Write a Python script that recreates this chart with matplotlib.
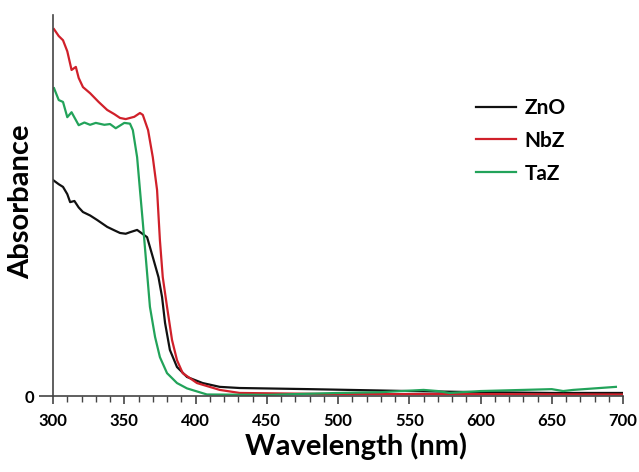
import matplotlib
matplotlib.use("Agg")
import matplotlib.pyplot as plt
from matplotlib.ticker import MultipleLocator

# values (absorbance, arbitrary units, 0 = baseline)
zno_nm = [300, 304, 307, 310, 312, 315, 318, 321, 326, 331, 338, 343, 347, 351, 354, 359,
          366, 370, 374, 376.5, 378.6, 382, 387, 394, 405, 417, 431, 480, 550, 600, 650, 700]
zno_abs = [0.567, 0.556, 0.549, 0.530, 0.509, 0.512, 0.495, 0.483, 0.474, 0.462, 0.444, 0.435,
           0.428, 0.426, 0.430, 0.436, 0.417, 0.365, 0.312, 0.260, 0.192, 0.121, 0.076, 0.050,
           0.034, 0.024, 0.021, 0.018, 0.013, 0.010, 0.008, 0.008]

nbz_nm = [300.7, 304, 307, 310, 313, 316, 318, 321, 326, 332, 338, 343, 347, 351, 354, 357,
          361, 363, 366.7, 370, 373, 375, 377, 380, 383.5, 387, 391, 401, 417, 431, 500, 600, 700]
nbz_abs = [0.963, 0.945, 0.934, 0.905, 0.856, 0.864, 0.835, 0.811, 0.795, 0.772, 0.751, 0.740,
           0.730, 0.727, 0.730, 0.733, 0.743, 0.738, 0.698, 0.627, 0.541, 0.409, 0.312, 0.234,
           0.147, 0.094, 0.060, 0.034, 0.016, 0.008, 0.005, 0.005, 0.004]

taz_nm = [300.7, 304, 307, 310, 313, 318, 322, 326, 330, 336, 340, 344, 350, 354, 356, 359,
          361, 363, 366, 368, 371.6, 375, 380, 387, 394, 408, 450, 500, 530, 560, 570, 578,
          600, 650, 658, 665, 695]
taz_abs = [0.808, 0.777, 0.772, 0.732, 0.745, 0.711, 0.718, 0.712, 0.717, 0.712, 0.714, 0.703,
           0.717, 0.715, 0.698, 0.627, 0.541, 0.456, 0.323, 0.234, 0.155, 0.102, 0.060, 0.034,
           0.020, 0.004, 0.003, 0.008, 0.010, 0.016, 0.013, 0.008, 0.013, 0.018, 0.013, 0.016,
           0.024]

series = [
    ("ZnO", zno_nm, zno_abs, "#111111"),
    ("NbZ", nbz_nm, nbz_abs, "#d0202a"),
    ("TaZ", taz_nm, taz_abs, "#22a35a"),
]

plt.rcParams["font.family"] = ["Lato", "DejaVu Sans"]

fig = plt.figure(figsize=(6.39, 4.72), dpi=100)
ax = fig.add_axes([0.083, 0.161, 0.892, 0.807])

for name, x, y, color in series:
    ax.plot(x, y, color=color, linewidth=1.6, label=name)

ax.set_xlim(300, 700)
ax.set_ylim(0, 1.0)
ax.xaxis.set_major_locator(MultipleLocator(50))
ax.xaxis.set_minor_locator(MultipleLocator(10))
ax.set_yticks([0])

for side in ("top", "right"):
    ax.spines[side].set_visible(False)
for side in ("left", "bottom"):
    ax.spines[side].set_color("#444444")
    ax.spines[side].set_linewidth(1.2)

ax.tick_params(axis="x", which="major", direction="out", length=6, width=1.2,
               color="#444444", labelsize=12, pad=6)
ax.tick_params(axis="x", which="minor", direction="out", length=4, width=1.0, color="#444444")
ax.tick_params(axis="y", direction="out", length=10, width=1.2, color="#444444", labelsize=12)
for lbl in ax.get_xticklabels() + ax.get_yticklabels():
    lbl.set_fontweight("bold")

ax.set_xlabel("Wavelength (nm)", fontsize=21, fontweight="bold")
ax.xaxis.set_label_coords(0.532, -0.095)
ax.set_ylabel("Absorbance", fontsize=21, fontweight="bold")
ax.yaxis.set_label_coords(-0.033, 0.51)

leg = ax.legend(loc="upper left", bbox_to_anchor=(0.71, 0.832), frameon=False,
                prop={"weight": "bold", "size": 15}, handlelength=1.9,
                handletextpad=0.4, labelspacing=0.62)

fig.savefig("out.png", dpi=100)
